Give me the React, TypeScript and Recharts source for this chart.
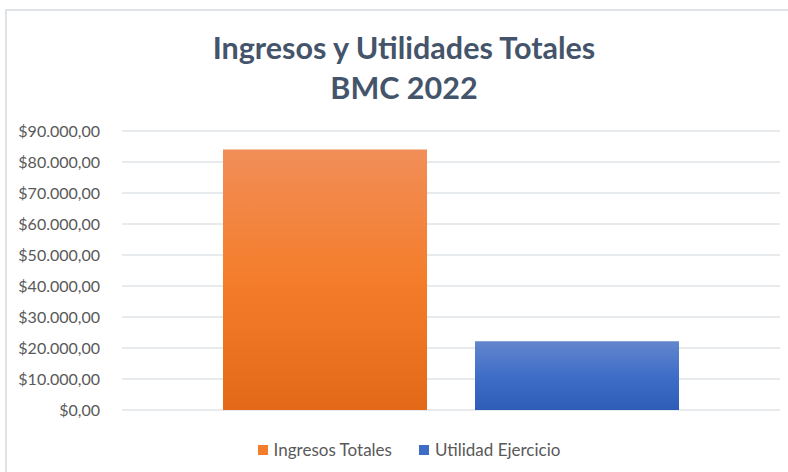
import { BarChart, Bar, XAxis, YAxis, CartesianGrid } from "recharts";

const categories = ["BMC 2022"];
const ingresosTotales = [84000];
const utilidadEjercicio = [22200];
const yTicks = [0, 10000, 20000, 30000, 40000, 50000, 60000, 70000, 80000, 90000];

const series = [
  { key: "ingresos", name: "Ingresos Totales", color: "#F47D2B", grad: "gradOrange" },
  { key: "utilidad", name: "Utilidad Ejercicio", color: "#3F6DC6", grad: "gradBlue" },
];

const data = categories.map((c, i) => ({
  name: c,
  ingresos: ingresosTotales[i],
  utilidad: utilidadEjercicio[i],
}));

const money = (v: number) => {
  const [int, dec] = v.toFixed(2).split(".");
  return `$${int.replace(/\B(?=(\d{3})+(?!\d))/g, ".")},${dec}`;
};

const FONT = "Lato, 'Open Sans', sans-serif";

export default function App() {
  return (
    <div
      style={{
        position: "fixed",
        left: 0,
        top: 0,
        width: 788,
        height: 472,
        overflow: "hidden",
        background: "#fff",
      }}
    >
      <div
        style={{
          position: "absolute",
          left: 5,
          top: 9,
          width: 800,
          height: 480,
          borderLeft: "2px solid #dfe3e8",
          borderTop: "2px solid #dfe3e8",
        }}
      />
      <div
        style={{
          position: "absolute",
          left: 0,
          top: 27,
          width: 808,
          textAlign: "center",
          fontFamily: FONT,
          fontWeight: 700,
          fontSize: 30.5,
          lineHeight: "40px",
          color: "#44546A",
        }}
      >
        Ingresos y Utilidades Totales
        <br />
        BMC 2022
      </div>
      <div style={{ position: "absolute", left: 0, top: 0 }}>
        <BarChart
          width={788}
          height={472}
          data={data}
          margin={{ top: 131, right: 8, bottom: 62, left: 0 }}
          barCategoryGap="15.35%"
          barGap={48}
        >
          <defs>
            <linearGradient id="gradOrange" x1="0" y1="0" x2="0" y2="1">
              <stop offset="0%" stopColor="#F18E58" />
              <stop offset="50%" stopColor="#F47D2B" />
              <stop offset="100%" stopColor="#E36918" />
            </linearGradient>
            <linearGradient id="gradBlue" x1="0" y1="0" x2="0" y2="1">
              <stop offset="0%" stopColor="#6386CD" />
              <stop offset="50%" stopColor="#3F6EC8" />
              <stop offset="100%" stopColor="#2D5DB6" />
            </linearGradient>
          </defs>
          <CartesianGrid vertical={false} stroke="#e0e4e9" strokeWidth={1.5} />
          <XAxis dataKey="name" hide />
          <YAxis
            width={122}
            domain={[0, 90000]}
            ticks={yTicks}
            interval={0}
            axisLine={false}
            tickLine={false}
            tickSize={6}
            tickMargin={16}
            tickFormatter={money}
            tick={{ fill: "#595959", fontSize: 16, fontFamily: FONT }}
          />
          {series.map((s) => (
            <Bar
              key={s.key}
              dataKey={s.key}
              name={s.name}
              fill={`url(#${s.grad})`}
              isAnimationActive={false}
            />
          ))}
        </BarChart>
      </div>
      <div
        style={{
          position: "absolute",
          left: 0,
          top: 439,
          width: 788,
          display: "flex",
          justifyContent: "center",
          gap: 27,
          fontFamily: FONT,
          fontSize: 17,
          lineHeight: "22px",
          color: "#595959",
          paddingLeft: 30,
          boxSizing: "border-box",
        }}
      >
        {series.map((s) => (
          <div key={s.key} style={{ display: "flex", alignItems: "center", gap: 6 }}>
            <div style={{ width: 10, height: 10, background: s.color }} />
            <span>{s.name}</span>
          </div>
        ))}
      </div>
    </div>
  );
}
